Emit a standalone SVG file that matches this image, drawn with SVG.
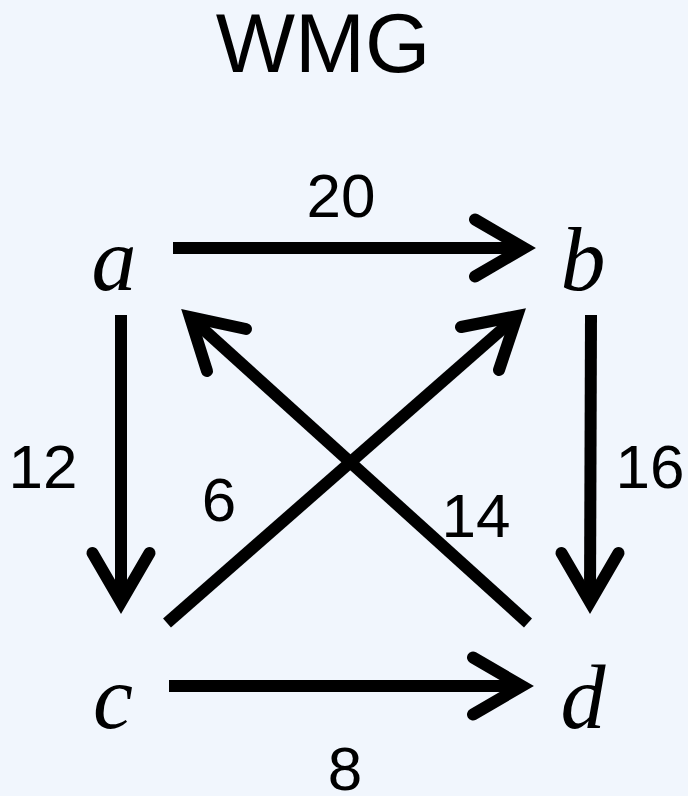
<svg xmlns="http://www.w3.org/2000/svg" width="688" height="796" viewBox="0 0 688 796">
<style>
.bg{fill:#F1F6FD}
.title{font-family:"Liberation Sans",Arial,sans-serif;font-size:84px;fill:#000;text-anchor:middle}
.w{font-family:"Liberation Sans",Arial,sans-serif;font-size:62px;fill:#000;text-anchor:middle}
.v{font-family:"Liberation Serif","Times New Roman",serif;font-style:italic;font-size:90px;fill:#000;text-anchor:middle}
.ln{stroke:#000;stroke-width:12;fill:none;stroke-linecap:butt}
.hd{stroke:#000;stroke-width:12;fill:none;stroke-linecap:round;stroke-linejoin:miter}
</style>
<rect class="bg" x="0" y="0" width="688" height="796"/>
<text class="title" x="323" y="72">WMG</text>
<g id="node-a"><text class="v" x="114" y="290">a</text></g>
<g id="node-b"><text class="v" x="583" y="290">b</text></g>
<g id="node-c"><text class="v" x="113" y="728">c</text></g>
<g id="node-d"><text class="v" x="583" y="728">d</text></g>
<g id="connectors">
<g id="e-ab"><line class="ln" x1="173" y1="248" x2="522" y2="248"/><polyline class="hd" points="475,219.5 524,248 475,276.5"/><text class="w" x="341" y="217">20</text></g>
<g id="e-cd"><line class="ln" x1="169" y1="686" x2="520" y2="686"/><polyline class="hd" points="473,657.5 522,686 473,714.5"/><text class="w" x="345" y="790">8</text></g>
<g id="e-ac"><line class="ln" x1="121" y1="315" x2="121" y2="600"/><polyline class="hd" points="92.5,553 121,602 149.5,553"/><text class="w" x="43" y="488">12</text></g>
<g id="e-bd"><line class="ln" x1="591" y1="315" x2="590" y2="600"/><polyline class="hd" points="561.5,553 590,602 618.5,553"/><text class="w" x="650" y="488">16</text></g>
<g id="e-cb"><line class="ln" x1="167" y1="623" x2="515" y2="318"/><polyline class="hd" points="461,327 517,316 499,370"/><text class="w" x="219" y="521">6</text></g>
<g id="e-da"><line class="ln" x1="528" y1="623" x2="192" y2="319"/><polyline class="hd" points="207,371 190,317 246,329"/><text class="w" x="476" y="537">14</text></g>
</g>
</svg>
